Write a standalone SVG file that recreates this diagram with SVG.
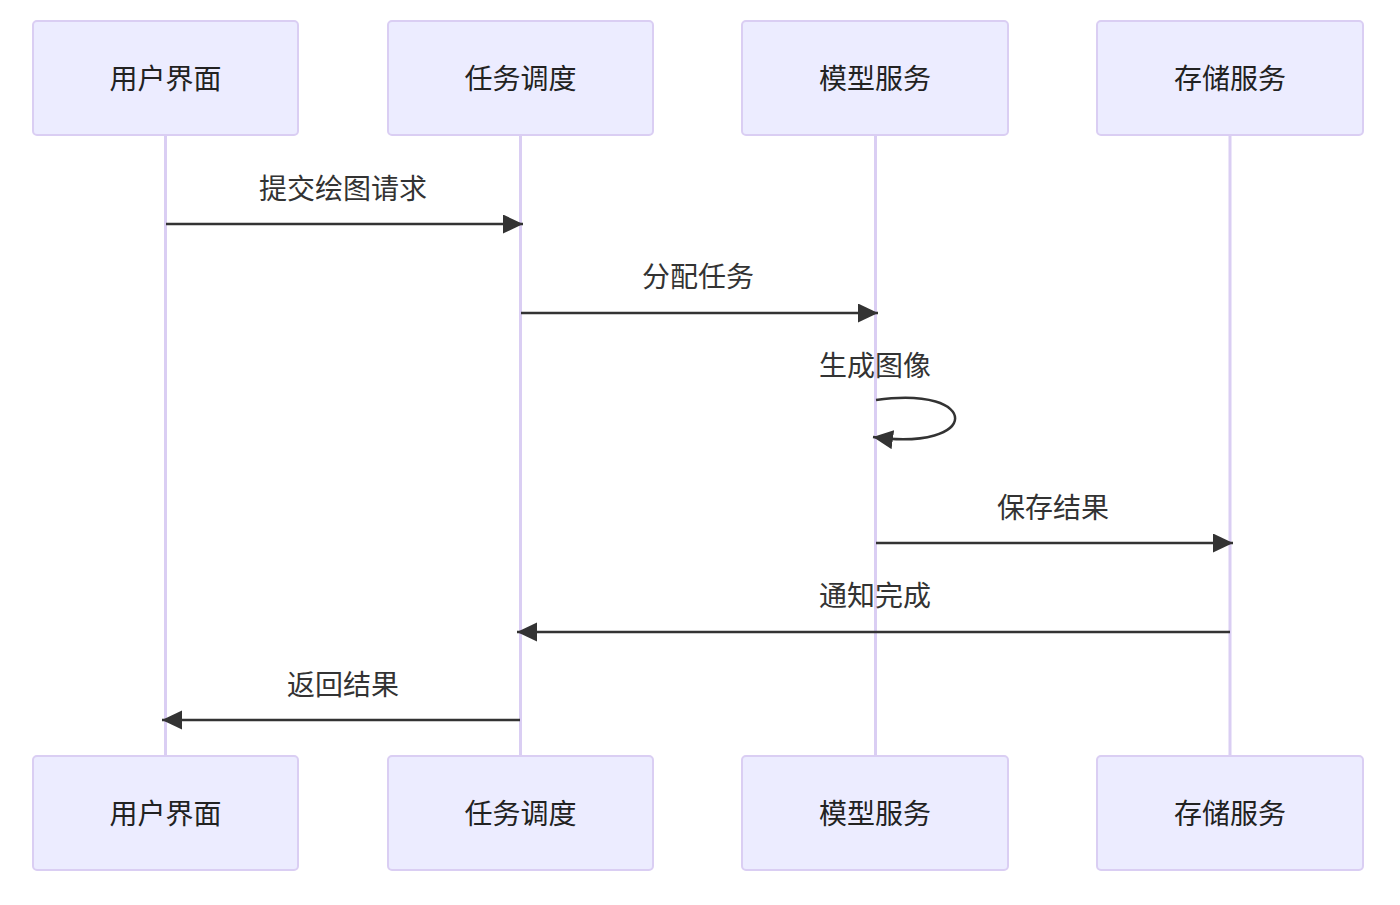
<svg xmlns="http://www.w3.org/2000/svg" width="1400" height="905" viewBox="0 0 1400 905">
<style>
.actor rect{fill:#ECECFF;stroke:#DACEF3;stroke-width:2}
.actor text,.lbl{font-family:"Noto Sans CJK SC","Liberation Sans",sans-serif;font-size:28px;fill:#333;text-anchor:middle;dominant-baseline:central}
.actor text{fill:#222}
.life{stroke:#DACEF3;stroke-width:3}
.msg{stroke:#333;stroke-width:2.5;fill:none;marker-end:url(#ah)}
</style>
<defs>
<marker id="ah" markerUnits="userSpaceOnUse" markerWidth="22" markerHeight="20" viewBox="0 0 22 20" refX="20" refY="9.5" orient="auto">
<path d="M0,0 L20,9.5 L0,19 z" fill="#333"/>
</marker>
</defs>
<g id="lifelines">
<line class="life" x1="165.5" y1="135" x2="165.5" y2="756"/>
<line class="life" x1="520.5" y1="135" x2="520.5" y2="756"/>
<line class="life" x1="875.5" y1="135" x2="875.5" y2="756"/>
<line class="life" x1="1230" y1="135" x2="1230" y2="756"/>
</g>
<g id="actor-ui-top" class="actor"><rect x="33" y="21" width="265" height="114" rx="4"/><text x="165.5" y="77">用户界面</text></g>
<g id="actor-sched-top" class="actor"><rect x="388" y="21" width="265" height="114" rx="4"/><text x="520.5" y="77">任务调度</text></g>
<g id="actor-model-top" class="actor"><rect x="742" y="21" width="266" height="114" rx="4"/><text x="875" y="77">模型服务</text></g>
<g id="actor-store-top" class="actor"><rect x="1097" y="21" width="266" height="114" rx="4"/><text x="1230" y="77">存储服务</text></g>
<g id="actor-ui-bottom" class="actor"><rect x="33" y="756" width="265" height="114" rx="4"/><text x="165.5" y="812">用户界面</text></g>
<g id="actor-sched-bottom" class="actor"><rect x="388" y="756" width="265" height="114" rx="4"/><text x="520.5" y="812">任务调度</text></g>
<g id="actor-model-bottom" class="actor"><rect x="742" y="756" width="266" height="114" rx="4"/><text x="875" y="812">模型服务</text></g>
<g id="actor-store-bottom" class="actor"><rect x="1097" y="756" width="266" height="114" rx="4"/><text x="1230" y="812">存储服务</text></g>
<g id="connectors">
<line class="msg" x1="166" y1="224" x2="523" y2="224"/>
<text class="lbl" x="343" y="187">提交绘图请求</text>
<line class="msg" x1="521" y1="313" x2="878" y2="313"/>
<text class="lbl" x="698" y="275">分配任务</text>
<path class="msg" d="M876,400 C982,385 982,452 873,437"/>
<text class="lbl" x="875" y="364">生成图像</text>
<line class="msg" x1="876" y1="543" x2="1233" y2="543"/>
<text class="lbl" x="1053" y="506">保存结果</text>
<line class="msg" x1="1230" y1="632" x2="517" y2="632"/>
<text class="lbl" x="875" y="594">通知完成</text>
<line class="msg" x1="520" y1="720" x2="162" y2="720"/>
<text class="lbl" x="343" y="683">返回结果</text>
</g>
</svg>
